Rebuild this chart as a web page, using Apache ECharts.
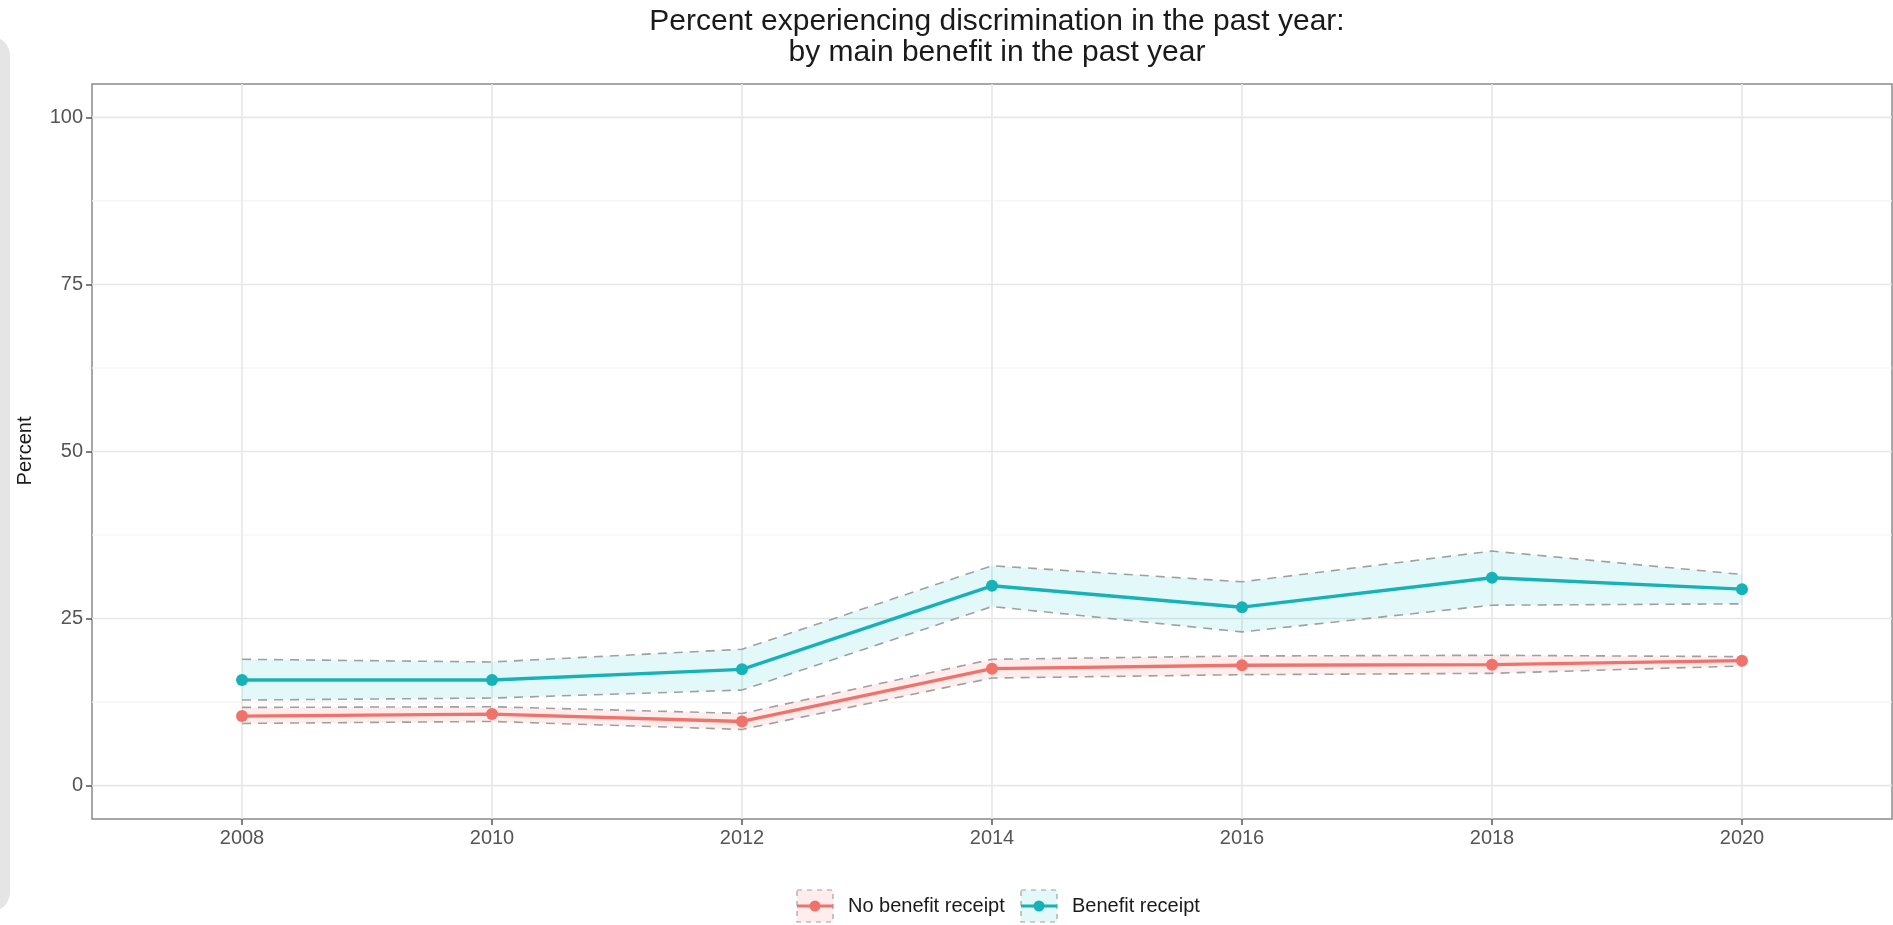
<!DOCTYPE html>
<html>
<head>
<meta charset="utf-8">
<script src="https://cdn.jsdelivr.net/npm/echarts@6/dist/echarts.min.js"></script>
<style>
html,body{margin:0;padding:0;background:#ffffff;}
#chart{width:1893px;height:925px;}
</style>
</head>
<body>
<div id="chart"></div>
<script>
// ---- data ----
const years = [2008, 2010, 2012, 2014, 2016, 2018, 2020];

const noBenefit      = [10.4, 10.7, 9.6, 17.5, 18.0, 18.1, 18.7];
const noBenefitLower = [9.3, 9.6, 8.4, 16.1, 16.6, 16.8, 17.9];
const noBenefitUpper = [11.7, 11.8, 10.8, 18.9, 19.4, 19.5, 19.3];

const benefit      = [15.8, 15.8, 17.4, 29.9, 26.7, 31.1, 29.4];
const benefitLower = [12.8, 13.1, 14.3, 26.8, 23.0, 27.0, 27.2];
const benefitUpper = [18.9, 18.5, 20.4, 32.9, 30.5, 35.1, 31.6];

const yTicks = [0, 25, 50, 75, 100];
const yMinor = [12.5, 37.5, 62.5, 87.5];

const seriesNames = ['No benefit receipt', 'Benefit receipt'];
const titleText = 'Percent experiencing discrimination in the past year:\nby main benefit in the past year';
const yTitle = 'Percent';

// ---- chart ----
const FONT = '"Liberation Sans", Arial, Helvetica, sans-serif';
const RED = '#F0736B';
const TEAL = '#17B2B7';
const CI = '#a0a0a0';
const RED_FILL = 'rgba(248,118,109,0.13)';
const TEAL_FILL = 'rgba(0,191,196,0.11)';
const X_MIN = 2006.8, X_MAX = 2021.2, Y_MIN = -5, Y_MAX = 105;

const pairs = vals => years.map((y, i) => [y, vals[i]]);

const chart = echarts.init(document.getElementById('chart'), null, {renderer: 'canvas'});

// panel grid lines, drawn under everything through the axes' scales
const gridSpecs = [].concat(
  yMinor.map(v => ({dir: 'h', v: v, minor: true})),
  yTicks.map(v => ({dir: 'h', v: v, minor: false})),
  years.map(v => ({dir: 'v', v: v, minor: false}))
);
const gridSeries = {
  type: 'custom', silent: true, z: 0, clip: false,
  data: gridSpecs.map((g, i) => [i]),
  encode: {x: [], y: []},
  emphasis: {disabled: true},
  renderItem: function (params, api) {
    const g = gridSpecs[params.dataIndex];
    let p1, p2;
    if (g.dir === 'v') { p1 = api.coord([g.v, Y_MIN]); p2 = api.coord([g.v, Y_MAX]); }
    else { p1 = api.coord([X_MIN, g.v]); p2 = api.coord([X_MAX, g.v]); }
    return {type: 'line', shape: {x1: p1[0], y1: p1[1], x2: p2[0], y2: p2[1]},
            style: {stroke: g.minor ? '#f3f3f3' : '#e7e7e7', lineWidth: g.minor ? 1.2 : 1.6}};
  }
};

function band(lo, up, fill) {
  return {
    type: 'custom', silent: true, z: 2, clip: true,
    data: years.map((y, i) => [y, lo[i], up[i]]),
    encode: {x: 0, y: [1, 2]},
    emphasis: {disabled: true},
    renderItem: function (params, api) {
      if (params.dataIndex !== 0) return null;
      const pts = [];
      for (let i = 0; i < years.length; i++) pts.push(api.coord([years[i], up[i]]));
      for (let i = years.length - 1; i >= 0; i--) pts.push(api.coord([years[i], lo[i]]));
      return {type: 'polygon', shape: {points: pts}, style: {fill: fill, stroke: null}};
    }
  };
}
function ciLine(vals) {
  return {type: 'line', data: pairs(vals), symbol: 'none', silent: true, z: 3,
          lineStyle: {color: CI, width: 1.6, type: [9, 7]}, emphasis: {disabled: true}};
}
function mainLine(name, vals, color) {
  return {type: 'line', name: name, data: pairs(vals), symbol: 'circle', symbolSize: 12,
          showSymbol: true, z: 4, lineStyle: {color: color, width: 3.4},
          itemStyle: {color: color, borderWidth: 0}, emphasis: {disabled: true}};
}

function legendItem(x0, color, fill, label) {
  return [
    {type: 'rect', shape: {x: x0, y: 890, width: 36, height: 32},
     style: {fill: fill, stroke: CI, lineWidth: 1.2, lineDash: [5, 5]}},
    {type: 'line', shape: {x1: x0, y1: 906, x2: x0 + 36, y2: 906},
     style: {stroke: color, lineWidth: 3}},
    {type: 'circle', shape: {cx: x0 + 18, cy: 906, r: 5.5}, style: {fill: color}},
    {type: 'text', x: x0 + 51, y: 906,
     style: {text: label, fontSize: 20, fontFamily: FONT, fill: '#1a1a1a',
             align: 'left', verticalAlign: 'middle', textAlign: 'left', textVerticalAlign: 'middle'}}
  ];
}

const option = {
  animation: false,
  backgroundColor: '#ffffff',
  title: {
    text: titleText,
    left: 992, top: 1, textAlign: 'center',
    textStyle: {fontSize: 30, fontWeight: 'normal', color: '#1a1a1a', lineHeight: 31, fontFamily: FONT}
  },
  grid: {left: 92, right: 1, top: 84, bottom: 106, show: true,
         borderColor: '#8a8a8a', borderWidth: 1.5, backgroundColor: '#ffffff'},
  xAxis: {
    type: 'value', min: X_MIN, max: X_MAX,
    axisLine: {show: false, onZero: false}, splitLine: {show: false},
    axisTick: {show: true, customValues: years, length: 6, lineStyle: {color: '#555555', width: 1.5}},
    axisLabel: {customValues: years, fontSize: 20, color: '#555555', margin: 9, fontFamily: FONT,
                formatter: v => String(v)}
  },
  yAxis: {
    type: 'value', min: Y_MIN, max: Y_MAX,
    axisLine: {show: false, onZero: false}, splitLine: {show: false},
    axisTick: {show: true, customValues: yTicks, length: 6, lineStyle: {color: '#555555', width: 1.5}},
    axisLabel: {customValues: yTicks, fontSize: 20, color: '#555555', margin: 9, fontFamily: FONT,
                formatter: v => String(v)}
  },
  graphic: [
    {type: 'rect', shape: {x: -30, y: 36, width: 40, height: 876, r: 20},
     style: {fill: '#e5e5e5'}, silent: true, z: -10},
    {type: 'text', x: 25, y: 451, rotation: Math.PI / 2,
     style: {text: yTitle, fontSize: 20, fontFamily: FONT, fill: '#1a1a1a',
             align: 'center', verticalAlign: 'middle', textAlign: 'center', textVerticalAlign: 'middle'}}
  ].concat(
    legendItem(797, RED, RED_FILL, seriesNames[0]),
    legendItem(1021, TEAL, TEAL_FILL, seriesNames[1])
  ),
  series: [gridSeries,
    band(noBenefitLower, noBenefitUpper, RED_FILL),
    band(benefitLower, benefitUpper, TEAL_FILL),
    ciLine(noBenefitLower), ciLine(noBenefitUpper), ciLine(benefitLower), ciLine(benefitUpper),
    mainLine(seriesNames[0], noBenefit, RED), mainLine(seriesNames[1], benefit, TEAL)]
};

chart.setOption(option);
</script>
</body>
</html>
